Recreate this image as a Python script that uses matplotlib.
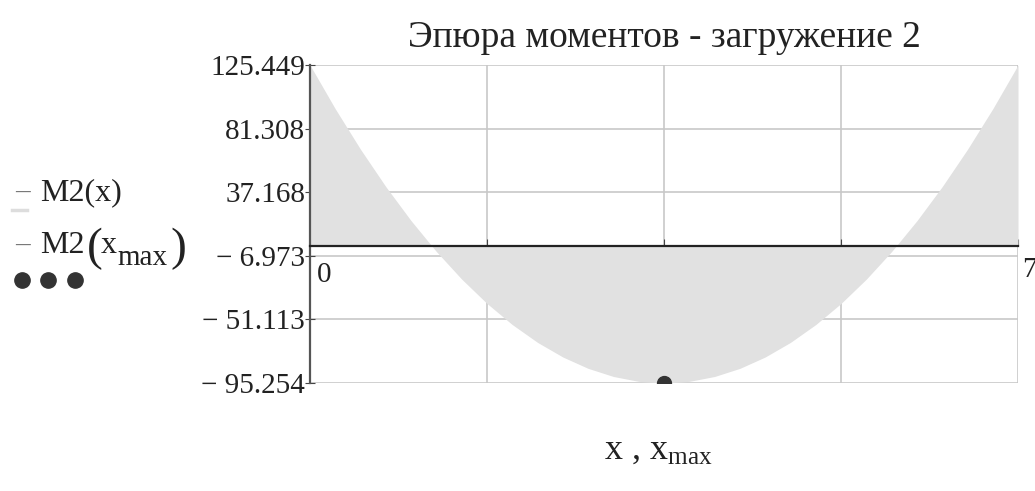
import matplotlib
matplotlib.use("Agg")
from matplotlib import pyplot as plt
from matplotlib.lines import Line2D
from matplotlib.transforms import ScaledTranslation
import numpy as np

# Moment diagram M2(x)
x_vals = [0.0, 0.25, 0.5, 0.75, 1.0, 1.25, 1.5, 1.75, 2.0, 2.25, 2.5, 2.75, 3.0, 3.25, 3.5,
          3.75, 4.0, 4.25, 4.5, 4.75, 5.0, 5.25, 5.5, 5.75, 6.0, 6.25, 6.5, 6.75, 7.0]
m2_vals = [125.45, 95.05, 66.90, 41.00, 17.35, -4.04, -23.19, -40.07, -54.72, -67.10,
           -77.24, -85.12, -90.75, -94.13, -95.25, -94.13, -90.75, -85.12, -77.24,
           -67.10, -54.72, -40.07, -23.19, -4.04, 17.35, 41.00, 66.90, 95.05, 125.45]
x_max = 3.5
m2_max = -95.254

x_ticks = [0, 1.75, 3.5, 5.25, 7]
x_labels = ["0", "1.75", "3.5", "5.25", "7"]
y_ticks = [125.449, 81.308, 37.168, -6.973, -51.113, -95.254]
y_labels = ["125.449", "81.308", "37.168", "\u2212 6.973", "\u2212 51.113", "\u2212 95.254"]

plt.rcParams["font.family"] = ["Liberation Serif", "DejaVu Serif"]
plt.rcParams["mathtext.fontset"] = "custom"
plt.rcParams["mathtext.rm"] = "Liberation Serif"
plt.rcParams["mathtext.it"] = "Liberation Serif"

W, H = 1035, 491
fig = plt.figure(figsize=(W / 100, H / 100), dpi=100)
ax = fig.add_axes([0.2995, 0.2200, 0.6841, 0.6476])


def fx(px):
    return px / W


def fy(py):
    return 1 - py / H


x = np.array(x_vals)
m = np.array(m2_vals)
ax.fill_between(x, 0, m, color="#e1e1e1", linewidth=0, zorder=2)
ax.plot([x_max], [m2_max], "o", color="#333333", markersize=10, zorder=4)

ax.set_xlim(0, 7)
ax.set_ylim(y_ticks[-1], y_ticks[0])
ax.set_xticks(x_ticks)
ax.set_xticklabels(x_labels)
ax.set_yticks(y_ticks)
ax.set_yticklabels(y_labels)
ax.grid(True, color="#c8c8c8", linewidth=1.2)
ax.set_axisbelow(True)

for side in ("top", "right"):
    ax.spines[side].set_visible(False)
ax.spines["bottom"].set_position(("data", 0))
ax.spines["bottom"].set_color("#222222")
ax.spines["bottom"].set_linewidth(1.6)
ax.spines["bottom"].set_zorder(3)
ax.spines["left"].set_color("#555555")
ax.spines["left"].set_linewidth(1.6)
ax.spines["left"].set_zorder(3)

ax.tick_params(axis="y", direction="inout", length=7, labelsize=21, pad=0,
               color="#444444", labelcolor="#222222")
ax.tick_params(axis="x", direction="in", length=5, labelsize=21, pad=8,
               color="#444444", labelcolor="#222222")
xl = ax.get_xticklabels()
for lbl in xl:
    lbl.set_zorder(1)
xl[0].set_horizontalalignment("left")
xl[0].set_transform(xl[0].get_transform() + ScaledTranslation(7 / 100, -5 / 100, fig.dpi_scale_trans))
xl[-1].set_horizontalalignment("left")
xl[-1].set_transform(xl[-1].get_transform() + ScaledTranslation(4 / 100, 0, fig.dpi_scale_trans))

fig.text(fx(664), fy(38), "Эпюра моментов - загружение 2", ha="center", va="center",
         fontsize=27, color="#222222")
fig.text(fx(658), fy(450), r"x , x$_{\mathrm{max}}$", ha="center", va="center",
         fontsize=26, color="#222222")

# legend on the left
fig.text(fx(15), fy(200), "\u2013", fontsize=21, color="#777777", va="baseline")
fig.text(fx(40), fy(200), "M2(x)", fontsize=23, color="#222222", va="baseline")
fig.add_artist(Line2D([fx(12), fx(27)], [fy(210)] * 2, transform=fig.transFigure,
                      color="#dddddd", linewidth=2.5))
fig.text(fx(15), fy(253), "\u2013", fontsize=21, color="#777777", va="baseline")
fig.text(fx(40), fy(253), "M2", fontsize=23, color="#222222", va="baseline")
fig.text(fx(87), fy(260), "(", fontsize=34, color="#222222", va="baseline")
fig.text(fx(101), fy(253), "x", fontsize=23, color="#222222", va="baseline")
fig.text(fx(117), fy(265), "max", fontsize=21, color="#222222", va="baseline")
fig.text(fx(170), fy(260), ")", fontsize=34, color="#222222", va="baseline")
fig.add_artist(Line2D([fx(22), fx(48), fx(75)], [fy(280)] * 3, transform=fig.transFigure,
                      linestyle="none", marker="o", markersize=11, color="#333333"))

fig.savefig("out.png", dpi=100)
